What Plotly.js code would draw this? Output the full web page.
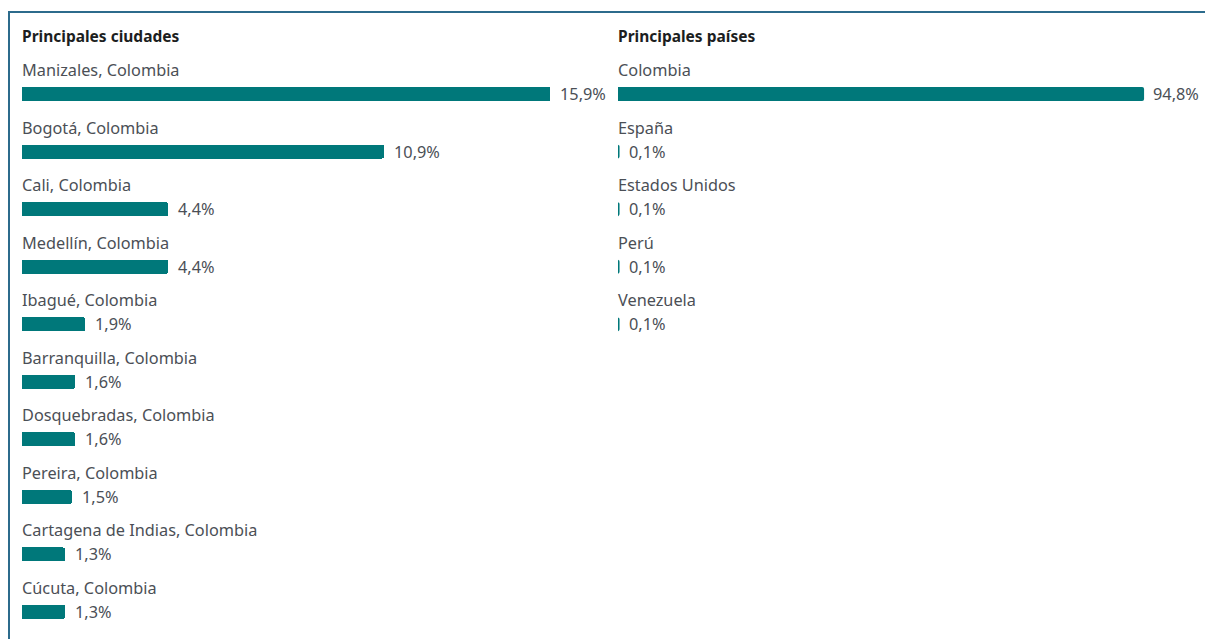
<!DOCTYPE html>
<html>
<head>
<meta charset="utf-8">
<script src="https://cdn.plot.ly/plotly-3.0.1.min.js"></script>
<style>
  html, body { margin: 0; padding: 0; background: #fff; }
  #wrap { position: relative; width: 1205px; height: 639px; overflow: hidden; }
  #chart { position: absolute; left: 0; top: 0; width: 1205px; height: 639px; }
  #frame { position: absolute; left: 8px; top: 11px; right: -10px; bottom: -10px;
           border-left: 2px solid #2c6b8c; border-top: 2px solid #2c6b8c; pointer-events: none; }
</style>
</head>
<body>
<div id="wrap">
  <div id="chart"></div>
  <div id="frame"></div>
</div>
<script>
const cityTitle = "Principales ciudades";
const cities = ["Manizales, Colombia", "Bogotá, Colombia", "Cali, Colombia", "Medellín, Colombia",
  "Ibagué, Colombia", "Barranquilla, Colombia", "Dosquebradas, Colombia", "Pereira, Colombia",
  "Cartagena de Indias, Colombia", "Cúcuta, Colombia"];
const cityValues = [15.9, 10.9, 4.4, 4.4, 1.9, 1.6, 1.6, 1.5, 1.3, 1.3];

const countryTitle = "Principales países";
const countries = ["Colombia", "España", "Estados Unidos", "Perú", "Venezuela"];
const countryValues = [94.8, 0.1, 0.1, 0.1, 0.1];

const barColor = "#00787a";
const textColor = "#4b4f56";
const fontFam = "'Noto Sans', 'Open Sans', sans-serif";

function fmt(v) { return v.toFixed(1).replace(".", ",") + "%"; }

const traces = [
  {
    type: "bar", orientation: "h", x: cityValues, y: cities,
    xaxis: "x", yaxis: "y", width: 0.243,
    marker: { color: barColor, cornerradius: 2 },
    hoverinfo: "skip"
  },
  {
    type: "bar", orientation: "h", x: countryValues, y: countries,
    xaxis: "x2", yaxis: "y2", width: 0.209,
    marker: { color: barColor, cornerradius: 1, line: { color: barColor, width: 2 } },
    hoverinfo: "skip"
  }
];

const annotations = [];
function addPanel(title, cats, vals, xr, yr) {
  annotations.push({
    xref: xr + " domain", yref: "paper", x: 0, y: 1, xanchor: "left", yanchor: "middle",
    yshift: 29, xshift: -2, showarrow: false, text: "<b>" + title + "</b>",
    font: { family: fontFam, size: 15.5, color: "#1c1e21" }
  });
  cats.forEach((c, i) => {
    annotations.push({
      xref: xr, yref: yr, x: 0, y: c, xanchor: "left", yanchor: "middle",
      yshift: 24, xshift: -2, showarrow: false, text: c,
      font: { family: fontFam, size: 16.3, color: textColor }
    });
    annotations.push({
      xref: xr, yref: yr, x: vals[i], y: c, xanchor: "left", yanchor: "middle",
      xshift: 8, yshift: 0, showarrow: false, text: fmt(vals[i]),
      font: { family: fontFam, size: 16.3, color: textColor }
    });
  });
}
addPanel(cityTitle, cities, cityValues, "x", "y");
addPanel(countryTitle, countries, countryValues, "x2", "y2");

const hidden = { showgrid: false, zeroline: false, showticklabels: false, showline: false, ticks: "", fixedrange: true };

const layout = {
  width: 1205, height: 639,
  margin: { l: 22, r: 0, t: 65, b: 0, pad: 0 },
  paper_bgcolor: "#ffffff", plot_bgcolor: "#ffffff",
  showlegend: false,
  bargap: 0,
  xaxis: Object.assign({}, hidden, { domain: [0, 0.4886], range: [0, 17.40] }),
  xaxis2: Object.assign({}, hidden, { domain: [0.5038, 1], range: [0, 105.98] }),
  yaxis: Object.assign({}, hidden, { type: "category", categoryorder: "array", categoryarray: cities,
    range: [9.47, -0.504] }),
  yaxis2: Object.assign({}, hidden, { type: "category", categoryorder: "array", categoryarray: countries,
    range: [9.47, -0.504], anchor: "x2" }),
  annotations: annotations
};

Plotly.newPlot("chart", traces, layout, { displayModeBar: false, staticPlot: true });
</script>
</body>
</html>
